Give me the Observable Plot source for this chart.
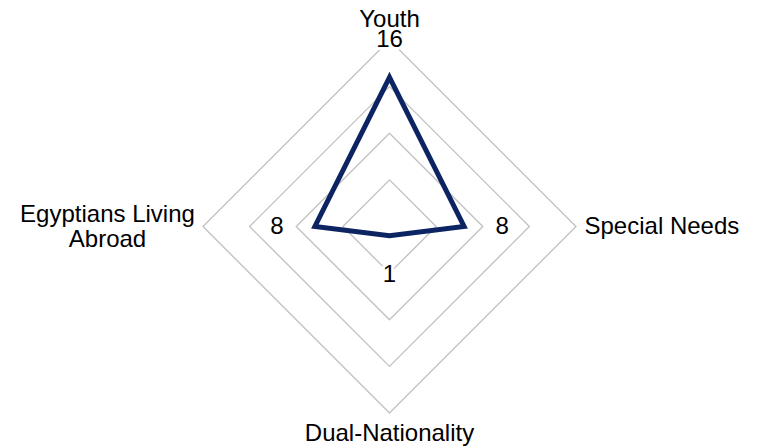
<!DOCTYPE html>
<html>
<head>
<meta charset="utf-8">
<script src="https://cdn.jsdelivr.net/npm/d3@7"></script>
<script src="https://cdn.jsdelivr.net/npm/@observablehq/plot@0.6"></script>
<style>
  html, body { margin: 0; padding: 0; background: #fff; }
  #chart svg { display: block; }
</style>
</head>
<body>
<div id="chart"></div>
<script>
const categories = ["Youth", "Special Needs", "Dual-Nationality", "Egyptians Living Abroad"];
const values = [16, 8, 1, 8];
const valueLabels = ["16", "8", "1", "8"];
const gridLevels = [5, 10, 15, 20];
const axisMax = 20;

const W = 757, H = 448;
const cx = 389, cy = 226, outerPx = 186.5;
const k = outerPx / axisMax; // px per unit

const angle = i => Math.PI / 2 - i * (2 * Math.PI / categories.length);
const polar = (i, r) => ({x: r * Math.cos(angle(i)), y: r * Math.sin(angle(i))});

const rings = gridLevels.flatMap(level =>
  categories.map((c, i) => ({level, ...polar(i, level)}))
);
const series = categories.map((c, i) => ({category: c, value: values[i], ...polar(i, values[i])}));
const dataLabels = categories.map((c, i) => ({text: valueLabels[i], ...polar(i, values[i] + 38 / k)}));

const catLabel = (i, rPx, text) => ({text: text ?? categories[i], ...polar(i, rPx / k)});
const labelsMiddle = [catLabel(0, 208), catLabel(2, 206), catLabel(3, 282, "Egyptians Living\nAbroad")];
const labelsStart = [catLabel(1, 195)];

const font = "Liberation Sans, Arial, Helvetica, sans-serif";
const fs = 24;

const chart = Plot.plot({
  width: W,
  height: H,
  margin: 0,
  x: {domain: [-cx / k, (W - cx) / k], range: [0, W], axis: null},
  y: {domain: [-(H - cy) / k, cy / k], range: [H, 0], axis: null},
  style: {fontFamily: font, background: "#fff", overflow: "visible"},
  marks: [
    Plot.line(rings, {x: "x", y: "y", z: "level", curve: "linear-closed", stroke: "#c3c3c3", strokeWidth: 1.4}),
    Plot.line(series, {x: "x", y: "y", curve: "linear-closed", stroke: "#0c2461", strokeWidth: 5, strokeLinejoin: "miter", strokeMiterlimit: 10}),
    Plot.text(dataLabels, {x: "x", y: "y", text: "text", fontSize: fs, fill: "#000", stroke: "#fff", strokeWidth: 6, paintOrder: "stroke"}),
    Plot.text(labelsMiddle, {x: "x", y: "y", text: "text", fontSize: fs, fill: "#000", lineHeight: 1.04}),
    Plot.text(labelsStart, {x: "x", y: "y", text: "text", fontSize: fs, fill: "#000", textAnchor: "start"})
  ]
});
document.getElementById("chart").appendChild(chart);
</script>
</body>
</html>
